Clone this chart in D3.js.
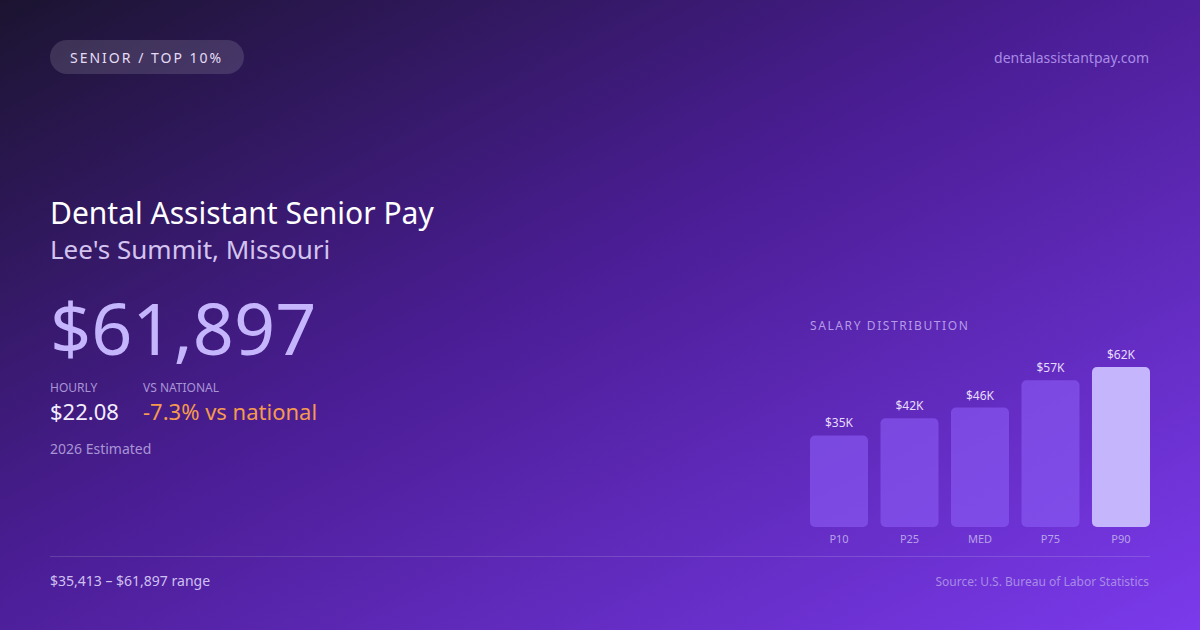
<!DOCTYPE html>
<html>
<head>
<meta charset="utf-8">
<script src="https://cdn.jsdelivr.net/npm/d3@7"></script>
<style>
  html, body { margin: 0; padding: 0; background: #1a1330; }
  svg { display: block; font-family: 'Noto Sans', 'Open Sans', sans-serif; }
</style>
</head>
<body>
<div id="chart"></div>
<script>
// chart data
const percentiles = ['P10', 'P25', 'MED', 'P75', 'P90'];
const salaries = [35413, 42100, 46200, 56800, 61897];
const barLabels = ['$35K', '$42K', '$46K', '$57K', '$62K'];

const width = 1200;
const height = 630;

const svg = d3.select('#chart')
  .append('svg')
  .attr('width', width)
  .attr('height', height);

// background gradient
const defs = svg.append('defs');
const grad = defs.append('linearGradient')
  .attr('id', 'bg')
  .attr('x1', 0).attr('y1', 0)
  .attr('x2', 1).attr('y2', 1);
grad.append('stop').attr('offset', '0%').attr('stop-color', '#1b1430');
grad.append('stop').attr('offset', '45%').attr('stop-color', '#4a1d94');
grad.append('stop').attr('offset', '100%').attr('stop-color', '#7b3aec');

svg.append('rect')
  .attr('width', width)
  .attr('height', height)
  .attr('fill', 'url(#bg)');

// badge
svg.append('rect')
  .attr('x', 50).attr('y', 40)
  .attr('width', 194).attr('height', 34)
  .attr('rx', 17)
  .attr('fill', '#ffffff')
  .attr('fill-opacity', 0.13);
svg.append('text')
  .attr('x', 70).attr('y', 63)
  .attr('font-size', 14)
  .attr('letter-spacing', 2)
  .attr('fill', '#e4dcf5')
  .text('SENIOR / TOP 10%');

svg.append('text')
  .attr('x', 1149).attr('y', 63)
  .attr('text-anchor', 'end')
  .attr('font-size', 14)
  .attr('fill', '#a98be6')
  .text('dentalassistantpay.com');

// headline block
svg.append('text')
  .attr('x', 50).attr('y', 224)
  .attr('font-size', 30)
  .attr('fill', '#ffffff')
  .text('Dental Assistant Senior Pay');
svg.append('text')
  .attr('x', 50).attr('y', 259)
  .attr('font-size', 26)
  .attr('fill', '#d3c3ef')
  .text("Lee's Summit, Missouri");

svg.append('text')
  .attr('x', 50).attr('y', 355)
  .attr('font-size', 72)
  .attr('fill', '#c4b5fd')
  .text('$61,897');

svg.append('text')
  .attr('x', 50).attr('y', 392)
  .attr('font-size', 12)
  .attr('fill', '#a995d6')
  .text('HOURLY');
svg.append('text')
  .attr('x', 143).attr('y', 392)
  .attr('font-size', 12)
  .attr('fill', '#a995d6')
  .text('VS NATIONAL');

svg.append('text')
  .attr('x', 50).attr('y', 420)
  .attr('font-size', 22)
  .attr('fill', '#f3eefc')
  .text('$22.08');
svg.append('text')
  .attr('x', 143).attr('y', 420)
  .attr('font-size', 22)
  .attr('fill', '#f59a4e')
  .text('-7.3% vs national');

svg.append('text')
  .attr('x', 50).attr('y', 454)
  .attr('font-size', 14)
  .attr('fill', '#a995d6')
  .text('2026 Estimated');

// salary distribution bars
const chartLeft = 810;
const chartRight = 1150;
const chartBottom = 527;
const chartHeight = 160;

svg.append('text')
  .attr('x', chartLeft).attr('y', 330)
  .attr('font-size', 12)
  .attr('letter-spacing', 1.6)
  .attr('fill', '#b49be8')
  .text('SALARY DISTRIBUTION');

const x = d3.scaleBand()
  .domain(percentiles)
  .range([chartLeft, chartRight])
  .paddingInner(0.177)
  .paddingOuter(0);

const y = d3.scaleLinear()
  .domain([0, d3.max(salaries)])
  .range([chartBottom, chartBottom - chartHeight]);

const bw = x.bandwidth();
const bars = svg.append('g');

bars.selectAll('rect')
  .data(percentiles)
  .enter()
  .append('rect')
  .attr('x', (d) => x(d))
  .attr('y', (d, i) => y(salaries[i]))
  .attr('width', bw)
  .attr('height', (d, i) => chartBottom - y(salaries[i]))
  .attr('rx', 5)
  .attr('fill', (d, i) => (i === percentiles.length - 1 ? '#c4b5fd' : '#8b5cf6'))
  .attr('fill-opacity', (d, i) => (i === percentiles.length - 1 ? 1 : 0.62));

bars.selectAll('.val')
  .data(percentiles)
  .enter()
  .append('text')
  .attr('class', 'val')
  .attr('x', (d) => x(d) + bw / 2)
  .attr('y', (d, i) => y(salaries[i]) - 8)
  .attr('text-anchor', 'middle')
  .attr('font-size', 12)
  .attr('fill', '#e6dcfa')
  .text((d, i) => barLabels[i]);

bars.selectAll('.cat')
  .data(percentiles)
  .enter()
  .append('text')
  .attr('class', 'cat')
  .attr('x', (d) => x(d) + bw / 2)
  .attr('y', 543)
  .attr('text-anchor', 'middle')
  .attr('font-size', 11)
  .attr('fill', '#b8a2ea')
  .text((d) => d);

// footer
svg.append('line')
  .attr('x1', 50).attr('x2', 1150)
  .attr('y1', 556.5).attr('y2', 556.5)
  .attr('stroke', '#ffffff')
  .attr('stroke-opacity', 0.15);

svg.append('text')
  .attr('x', 50).attr('y', 586)
  .attr('font-size', 14)
  .attr('fill', '#cfc0ef')
  .text('$35,413 – $61,897 range');
svg.append('text')
  .attr('x', 1149).attr('y', 586)
  .attr('text-anchor', 'end')
  .attr('font-size', 12)
  .attr('fill', '#a88be6')
  .text('Source: U.S. Bureau of Labor Statistics');
</script>
</body>
</html>
